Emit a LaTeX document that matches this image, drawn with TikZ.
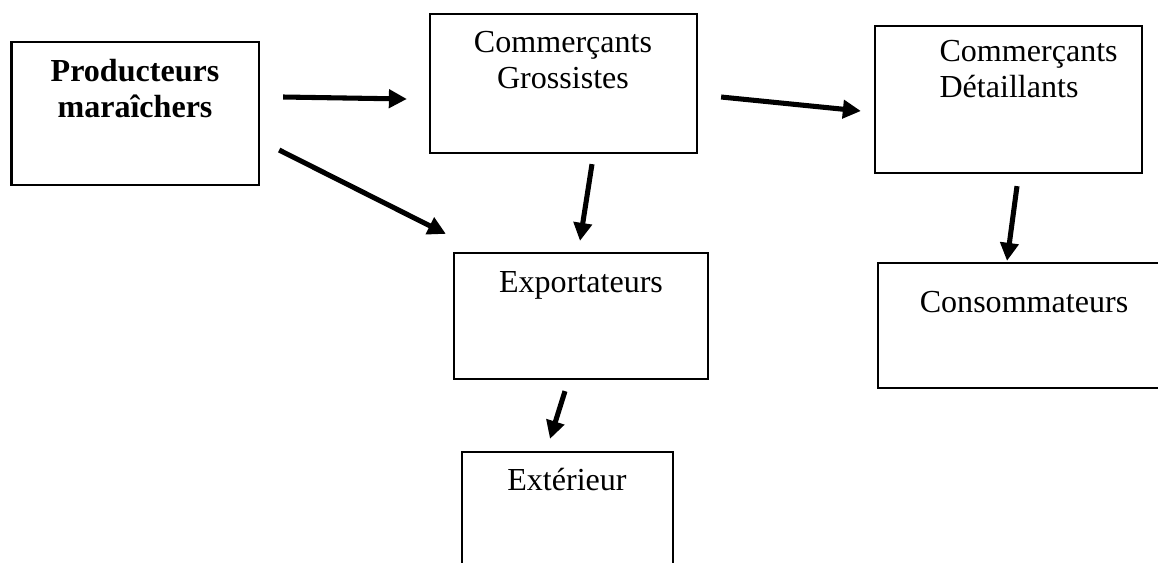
\documentclass[tikz,border=0pt]{standalone}
\usepackage{fontspec}
\setmainfont{Liberation Serif}
\usetikzlibrary{arrows.meta}
\newcommand{\px}{0.0125cm}

\begin{document}
\begin{tikzpicture}[x=0.0125cm, y=-0.0125cm,
    boite/.style={draw, line width=0.8pt, inner sep=0pt},
    texte/.style={align=center, anchor=base, inner sep=0pt, font=\fontsize{11.4}{12.45}\selectfont},
    fleche/.style={-{Triangle[length=0.225cm, width=0.225cm]}, line width=1.8pt}]
    \clip (0,0) rectangle (1158,562);

    % boites
    \node (prod) [boite, minimum width=247.5*\px, minimum height=143*\px] at (135.25,113.5) {};
    \node (gros) [boite, minimum width=267*\px, minimum height=139*\px] at (563.5,83.5) {};
    \node (det) [boite, minimum width=267*\px, minimum height=147*\px] at (1008.5,99.5) {};
    \node (exp) [boite, minimum width=254*\px, minimum height=126*\px] at (581,316) {};
    \node (cons) [boite, minimum width=284*\px, minimum height=125*\px] at (1020,325.5) {};
    \node (ext) [boite, minimum width=211*\px, minimum height=130*\px] at (567.5,517) {};

    % textes (base = derniere ligne)
    \node (tprod) [texte] at (135,117) {\textbf{Producteurs}\\\textbf{maraîchers}};
    \node (tgros) [texte] at (563,88) {Commerçants\\Grossistes};
    \node (tdet) [texte, align=left, anchor=base west] at (939,97) {Commerçants\\Détaillants};
    \node (texp) [texte] at (581,292) {Exportateurs};
    \node (tcons) [texte] at (1024,312) {Consommateurs};
    \node (text) [texte] at (567,490) {Extérieur};

    % fleches
    \draw[fleche] ([shift={(23,-16.5)}]prod.east) -- ([shift={(-22,15.5)}]gros.west);
    \draw[fleche] ([shift={(19,36.5)}]prod.east) -- ([shift={(-7,-18)}]exp.north west);
    \draw[fleche] ([shift={(23,13.5)}]gros.east) -- ([shift={(-13,11.5)}]det.west);
    \draw[fleche] ([shift={(28.5,10)}]gros.south) -- ([shift={(-1,-11)}]exp.north);
    \draw[fleche] ([shift={(8.5,12)}]det.south) -- ([shift={(-13,-1)}]cons.north);
    \draw[fleche] ([shift={(-16,11)}]exp.south) -- ([shift={(-17.5,-12)}]ext.north);
\end{tikzpicture}
\end{document}
